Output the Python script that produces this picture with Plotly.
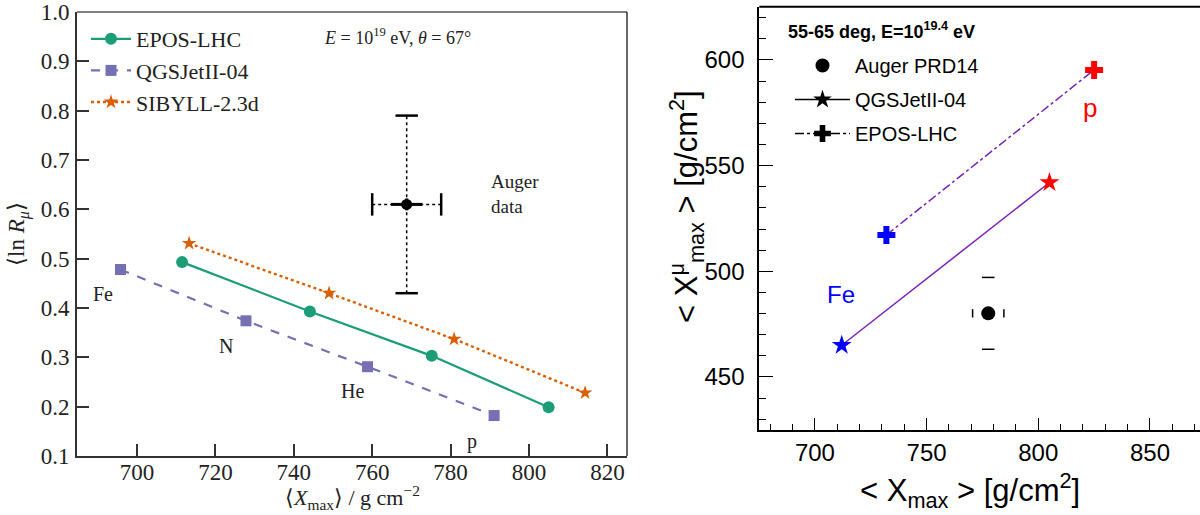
import plotly.graph_objects as go

# ---------------- data (left panel) ----------------
epos_xmax = [711.5, 744.1, 775.2, 805.0]
epos_lnr = [0.493, 0.393, 0.303, 0.199]
qgs_xmax = [695.8, 727.8, 758.8, 791.1]
qgs_lnr = [0.478, 0.374, 0.281, 0.182]
sib_xmax = [713.3, 749.0, 780.9, 814.3]
sib_lnr = [0.531, 0.430, 0.337, 0.228]
auger_l_x = [768.8]
auger_l_y = [0.61]
auger_l_statx = [4.0]
auger_l_staty = [0.012]
auger_l_sysx = 8.8
auger_l_sysy = 0.18
left_xticks = [700, 720, 740, 760, 780, 800, 820]
left_yticks = [0.1, 0.2, 0.3, 0.4, 0.5, 0.6, 0.7, 0.8, 0.9, 1.0]

# ---------------- data (right panel) ----------------
r_qgs_xmax = [712.0, 805.0]
r_qgs_xmu = [465.0, 542.0]
r_epos_xmax = [732.0, 825.0]
r_epos_xmu = [517.2, 595.3]
r_auger_x = [777.6]
r_auger_y = [480.1]
r_auger_ex = 7.0
r_auger_ey = 17.0
right_xticks = [700, 750, 800, 850]
right_yticks = [450, 500, 550, 600]

W, H = 1200, 515
def px(x):
    return x / W
def py(y):
    return 1 - y / H

GREEN = "#1b9e77"
PURPLE = "#7570b3"
ORANGE = "#d95f02"
SERIF = "Liberation Serif"
SANS = "Liberation Sans"

fig = go.Figure()

# ---- left panel traces ----
fig.add_trace(go.Scatter(x=epos_xmax, y=epos_lnr, mode="lines+markers", name="EPOS-LHC",
                         line=dict(color=GREEN, width=2.2), marker=dict(symbol="circle", size=12, color=GREEN),
                         xaxis="x", yaxis="y", legend="legend", legendgroup="a"))
fig.add_trace(go.Scatter(x=qgs_xmax, y=qgs_lnr, mode="lines+markers", name="QGSJetII-04",
                         line=dict(color=PURPLE, width=2.2, dash="dash"), marker=dict(symbol="square", size=11, color=PURPLE),
                         xaxis="x", yaxis="y", legend="legend", legendgroup="b"))
fig.add_trace(go.Scatter(x=sib_xmax, y=sib_lnr, mode="lines+markers", name="SIBYLL-2.3d",
                         line=dict(color=ORANGE, width=2.4, dash="dot"), marker=dict(symbol="star", size=11, color=ORANGE),
                         xaxis="x", yaxis="y", legend="legend", legendgroup="c"))

# Auger systematic (dotted) bars with caps
ax0, ay0 = auger_l_x[0], auger_l_y[0]
fig.add_trace(go.Scatter(x=[ax0 - auger_l_sysx, ax0 + auger_l_sysx], y=[ay0, ay0], mode="lines",
                         line=dict(color="black", width=1.5, dash="dot"), showlegend=False, xaxis="x", yaxis="y"))
fig.add_trace(go.Scatter(x=[ax0, ax0], y=[ay0 - auger_l_sysy, ay0 + auger_l_sysy], mode="lines",
                         line=dict(color="black", width=1.5, dash="dot"), showlegend=False, xaxis="x", yaxis="y"))
fig.add_trace(go.Scatter(x=[ax0 - auger_l_sysx, ax0 + auger_l_sysx], y=[ay0, ay0], mode="markers",
                         marker=dict(symbol="line-ns", size=16, line=dict(color="black", width=2.5)),
                         showlegend=False, xaxis="x", yaxis="y"))
fig.add_trace(go.Scatter(x=[ax0, ax0], y=[ay0 - auger_l_sysy, ay0 + auger_l_sysy], mode="markers",
                         marker=dict(symbol="line-ew", size=16, line=dict(color="black", width=2.5)),
                         showlegend=False, xaxis="x", yaxis="y"))
fig.add_trace(go.Scatter(x=auger_l_x, y=auger_l_y, mode="markers",
                         marker=dict(symbol="circle", size=11, color="black"),
                         error_x=dict(type="data", array=auger_l_statx, thickness=3, width=0, color="black"),
                         error_y=dict(type="data", array=auger_l_staty, thickness=3, width=0, color="black"),
                         showlegend=False, xaxis="x", yaxis="y"))

# ---- right panel traces ----
fig.add_trace(go.Scatter(x=r_qgs_xmax, y=r_qgs_xmu, mode="lines+markers", showlegend=False,
                         line=dict(color="#7a22b8", width=1.5),
                         marker=dict(symbol="star", size=15, color=["blue", "red"]),
                         xaxis="x2", yaxis="y2"))
fig.add_trace(go.Scatter(x=r_epos_xmax, y=r_epos_xmu, mode="lines+markers", showlegend=False,
                         line=dict(color="#7a22b8", width=1.5, dash="dashdot"),
                         marker=dict(symbol="cross", size=15, color=["blue", "red"]),
                         xaxis="x2", yaxis="y2"))
rx0, ry0 = r_auger_x[0], r_auger_y[0]
fig.add_trace(go.Scatter(x=[rx0, rx0], y=[ry0 - r_auger_ey, ry0 + r_auger_ey], mode="markers",
                         marker=dict(symbol="line-ew", size=9, line=dict(color="black", width=1.5)),
                         showlegend=False, xaxis="x2", yaxis="y2"))
fig.add_trace(go.Scatter(x=[rx0 - r_auger_ex, rx0 + r_auger_ex], y=[ry0, ry0], mode="markers",
                         marker=dict(symbol="line-ns", size=6, line=dict(color="black", width=1.5)),
                         showlegend=False, xaxis="x2", yaxis="y2"))
fig.add_trace(go.Scatter(x=r_auger_x, y=r_auger_y, mode="markers", showlegend=False,
                         marker=dict(symbol="circle", size=14, color="black"), xaxis="x2", yaxis="y2"))

# right legend entries (black symbols)
fig.add_trace(go.Scatter(x=[None], y=[None], mode="markers", name="Auger PRD14",
                         marker=dict(symbol="circle", size=14, color="black"),
                         xaxis="x2", yaxis="y2", legend="legend2", legendgroup="r1"))
fig.add_trace(go.Scatter(x=[None], y=[None], mode="lines+markers", name="QGSJetII-04",
                         line=dict(color="black", width=1.5), marker=dict(symbol="star", size=14, color="black"),
                         xaxis="x2", yaxis="y2", legend="legend2", legendgroup="r2"))
fig.add_trace(go.Scatter(x=[None], y=[None], mode="lines+markers", name="EPOS-LHC",
                         line=dict(color="black", width=1.5, dash="dashdot"), marker=dict(symbol="cross", size=14, color="black"),
                         xaxis="x2", yaxis="y2", legend="legend2", legendgroup="r3"))

# ---------------- layout ----------------
L_x0, L_x1, L_y0, L_y1 = 77, 627, 12, 456
R_x0, R_y0, R_y1 = 759.3, 6.7, 430

fig.update_layout(
    width=W, height=H, margin=dict(l=0, r=0, t=0, b=0),
    paper_bgcolor="white", plot_bgcolor="white",
    xaxis=dict(domain=[px(L_x0), px(L_x1)], range=[684.7, 825], tickvals=left_xticks,
               showgrid=False, zeroline=False, showline=True, linewidth=2, linecolor="#333",
               ticks="inside", ticklen=12, tickwidth=1.5, tickcolor="#333", ticklabelstandoff=-6,
               tickfont=dict(family=SERIF, size=23, color="#222"), automargin=False, anchor="y"),
    yaxis=dict(domain=[py(L_y1), py(L_y0)], range=[0.1, 1.0], tickvals=left_yticks, tickformat=".1f",
               showgrid=False, zeroline=False, showline=True, linewidth=2, linecolor="#333",
               ticks="inside", ticklen=12, tickwidth=1.5, tickcolor="#333", ticklabelstandoff=1,
               tickfont=dict(family=SERIF, size=23, color="#222"), automargin=False, anchor="x"),
    xaxis2=dict(domain=[px(R_x0), 1.0], range=[675.1, 872.4], tickvals=right_xticks,
                showgrid=False, zeroline=False, showline=True, linewidth=2, linecolor="black",
                ticks="inside", ticklen=12, tickwidth=1, tickcolor="black", ticklabelstandoff=0,
                minor=dict(dtick=10, ticks="inside", ticklen=6, tickwidth=1, tickcolor="black", showgrid=False),
                tickfont=dict(family=SANS, size=24, color="black"), automargin=False, anchor="y2"),
    yaxis2=dict(domain=[py(R_y1), py(R_y0)], range=[424.9, 625.2], tickvals=right_yticks,
                showgrid=False, zeroline=False, showline=True, linewidth=2, linecolor="black",
                ticks="inside", ticklen=14, tickwidth=1, tickcolor="black", ticklabelstandoff=8,
                minor=dict(dtick=10, ticks="inside", ticklen=7, tickwidth=1, tickcolor="black", showgrid=False),
                tickfont=dict(family=SANS, size=24, color="black"), automargin=False, anchor="x2"),
    legend=dict(x=px(86), y=py(18), xanchor="left", yanchor="top", bgcolor="rgba(0,0,0,0)",
                font=dict(family=SERIF, size=22, color="#222"), traceorder="grouped", tracegroupgap=0,
                itemwidth=40),
    legend2=dict(x=px(790), y=py(46), xanchor="left", yanchor="top", bgcolor="rgba(0,0,0,0)",
                 font=dict(family=SANS, size=20, color="black"), traceorder="grouped", tracegroupgap=5,
                 itemwidth=55),
    showlegend=True,
)

# frame borders (thin top/right on left panel; top on right panel)
fig.add_shape(type="line", xref="x domain", yref="y domain", x0=0, x1=1, y0=1, y1=1,
              line=dict(color="black", width=1.2))
fig.add_shape(type="line", xref="x domain", yref="y domain", x0=1, x1=1, y0=0, y1=1,
              line=dict(color="black", width=1.2))
fig.add_shape(type="line", xref="x2 domain", yref="y2 domain", x0=0, x1=1, y0=1, y1=1,
              line=dict(color="black", width=2))


def note(text, x, y, family, size, color="#222", xanchor="center", angle=0, align="center"):
    return dict(x=px(x), y=py(y), xref="paper", yref="paper", showarrow=False, text=text,
                xanchor=xanchor, yanchor="middle", textangle=angle, align=align,
                font=dict(family=family, size=size, color=color))


ann = [
    note("⟨<i>X</i><sub>max</sub>⟩ / g cm<sup>−2</sup>", 352, 497, SERIF, 22),
    note("⟨ln <i>R</i><sub><i>μ</i></sub>⟩", 19, 234, SERIF, 23, angle=-90),
    note("<i>E</i> = 10<sup>19</sup> eV, <i>θ</i> = 67°", 322, 36, SERIF, 18, xanchor="left"),
    note("Auger<br>data", 489, 194, SERIF, 19, xanchor="left", align="left"),
    note("Fe", 103, 294, SERIF, 20),
    note("N", 226, 346, SERIF, 20),
    note("He", 352, 391, SERIF, 20),
    note("p", 472, 441, SERIF, 20),
    note("<b>55-65 deg, E=10<sup>19.4</sup> eV</b>", 786, 31, SANS, 18, color="black", xanchor="left"),
    note("p", 1090, 108, SANS, 26, color="red"),
    note("Fe", 841, 294, SANS, 24, color="blue"),
    note("&lt; X<sub>max</sub> &gt; [g/cm<sup>2</sup>]", 970, 490, SANS, 31, color="black"),
    note("&lt; X<sup>μ</sup><sub>max</sub> &gt; [g/cm<sup>2</sup>]", 686, 207, SANS, 31, color="black", angle=-90),
]
fig.update_layout(annotations=ann)

fig.write_html("out.html")
